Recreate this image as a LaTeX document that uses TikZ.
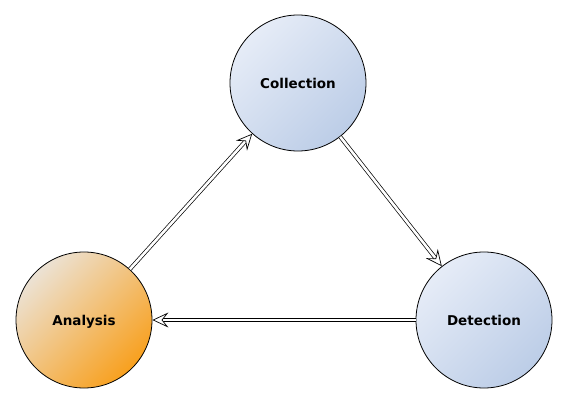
\documentclass[tikz,border=0pt]{standalone}
\usepackage{fontspec}
\setmainfont{DejaVu Sans}
\usetikzlibrary{arrows.meta}
\definecolor{bluelt}{RGB}{230,236,247}
\definecolor{bluedk}{RGB}{188,205,231}
\definecolor{orglt}{RGB}{236,226,212}
\definecolor{orgdk}{RGB}{248,160,30}
\tikzset{
  proc/.style={circle, draw=black, line width=0.8pt, minimum size=136pt, inner sep=0pt,
    text height=11.8pt, text depth=0pt,
    font=\fontsize{13.5}{16}\selectfont\bfseries},
  bluec/.style={proc, top color=bluelt, bottom color=bluedk, shading angle=45},
  orgc/.style={proc, top color=orglt, bottom color=orgdk, shading angle=45},
  dbl/.style={double=white, double distance=2.6pt, line width=0.7pt,
    -{Stealth[open, length=16pt, width=15pt, inset=6pt, fill=white, line width=0.7pt]}},
}
\begin{document}
\begin{tikzpicture}[x=1pt,y=-1pt]
\useasboundingbox (0,0) rectangle (569,404);
\node[bluec] (co) at (298,83) {Collection};
\node[bluec] (de) at (484,320) {Detection};
\node[orgc] (an) at (84,320) {Analysis};
\draw[dbl] (an) -- (co);
\draw[dbl] (co) -- (de);
\draw[dbl] (de) -- (an);
\end{tikzpicture}
\end{document}
